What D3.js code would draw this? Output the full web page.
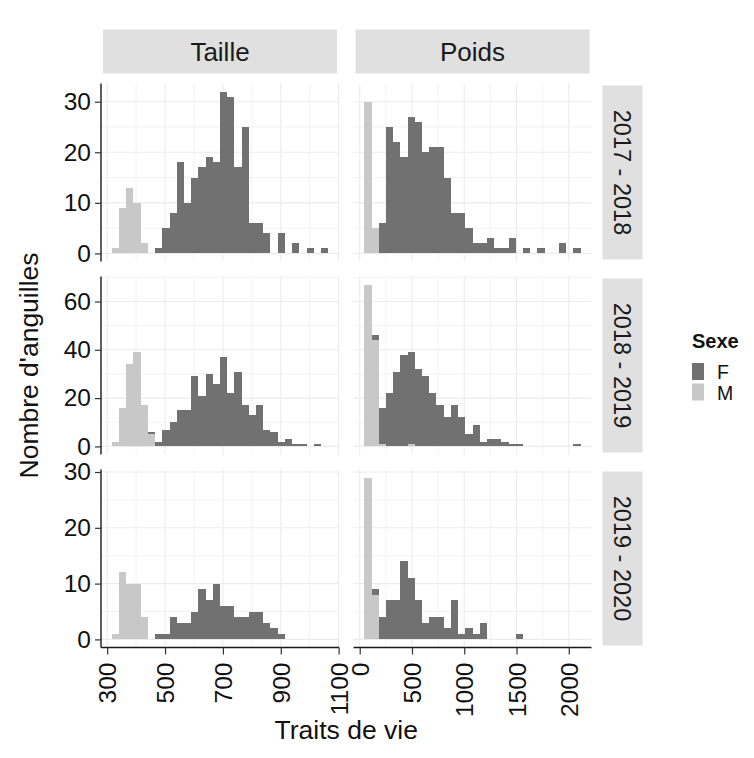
<!DOCTYPE html>
<html><head><meta charset="utf-8">
<script src="https://cdn.jsdelivr.net/npm/d3@7"></script>
<style>body{margin:0;background:#fff}svg{display:block}</style>
</head><body><svg id="c" width="754" height="758"></svg>
<script>
// ---------- data ----------
const traits = ["Taille", "Poids"];
const saisons = ["2017 - 2018", "2018 - 2019", "2019 - 2020"];
const sexes = ["F", "M"];

// histogram bins: 30 bins per column
const tailleBinStart = 316, tailleBinWidth = 24.93;
const poidsBinStart = 44, poidsBinWidth = 69;

// counts per bin (Taille)
const tailleF_1718 = [0,0,0,0,0,0,1,5,8,18,10,15,17,19,18,32,31,17,25,6,6,4,0,4,0,2,0,1,0,1];
const tailleM_1718 = [1,9,13,10,2,0,0,0,0,0,0,0,0,0,0,0,0,0,0,0,0,0,0,0,0,0,0,0,0,0];
const tailleF_1819 = [0,0,0,0,0,1,2,7,10,15,15,29,21,30,26,37,22,31,17,13,17,7,6,2,3,1,1,0,1,0];
const tailleM_1819 = [2,16,34,39,17,5,0,0,0,0,0,0,0,0,0,0,0,0,0,0,0,0,0,0,0,0,0,0,0,0];
const tailleF_1920 = [0,0,0,0,0,0,1,1,4,3,3,5,9,7,10,6,6,4,4,5,5,3,2,1,0,0,0,0,0,0];
const tailleM_1920 = [1,12,10,10,4,0,0,0,0,0,0,0,0,0,0,0,0,0,0,0,0,0,0,0,0,0,0,0,0,0];
// counts per bin (Poids)
const poidsF_1718 = [0,0,6,25,22,19,27,26,20,21,21,15,8,8,5,2,2,3,1,1,3,0,1,0,1,0,0,2,0,1];
const poidsM_1718 = [30,5,0,0,0,0,0,0,0,0,0,0,0,0,0,0,0,0,0,0,0,0,0,0,0,0,0,0,0,0];
const poidsF_1819 = [0,2,15,22,31,38,38,32,29,22,17,12,17,12,5,9,2,3,3,2,1,1,0,0,0,0,0,0,0,1];
const poidsM_1819 = [67,44,1,0,0,0,1,0,0,0,0,0,0,0,0,0,0,0,0,0,0,0,0,0,0,0,0,0,0,0];
const poidsF_1920 = [0,1,4,7,7,14,11,7,3,4,4,2,7,1,2,1,3,0,0,0,0,1,0,0,0,0,0,0,0,0];
const poidsM_1920 = [29,8,0,0,0,0,0,0,0,0,0,0,0,0,0,0,0,0,0,0,0,0,0,0,0,0,0,0,0,0];

// tick labels
const tailleTicks = [300, 500, 700, 900, 1100];
const poidsTicks = [0, 500, 1000, 1500, 2000];
const yTicks_1718 = [0, 10, 20, 30];
const yTicks_1819 = [0, 20, 40, 60];
const yTicks_1920 = [0, 10, 20, 30];

const xTitle = "Traits de vie";
const yTitle = "Nombre d'anguilles";
const legendTitle = "Sexe";

// ---------- assemble ----------
const binSpecs = [
  {start: tailleBinStart, width: tailleBinWidth, ticks: tailleTicks},
  {start: poidsBinStart, width: poidsBinWidth, ticks: poidsTicks}
];
const counts = [
  [{F: tailleF_1718, M: tailleM_1718}, {F: poidsF_1718, M: poidsM_1718}],
  [{F: tailleF_1819, M: tailleM_1819}, {F: poidsF_1819, M: poidsM_1819}],
  [{F: tailleF_1920, M: tailleM_1920}, {F: poidsF_1920, M: poidsM_1920}]
];
const rowTicks = [yTicks_1718, yTicks_1819, yTicks_1920];

const colors = {F: "#717171", M: "#c8c8c8"};
const font = "'Liberation Sans', Arial, Helvetica, sans-serif";

// layout
const colX = [101, 353.5], panelW = 238;
const rowY = [83.5, 276.5, 469.5], panelH = 178;

const svg = d3.select("#c");
svg.append("rect").attr("width", 754).attr("height", 758).attr("fill", "#ffffff");

// x scales per column (ggplot: expand 5% of bin range)
const xScales = binSpecs.map((b, c) => {
  const lo = b.start, hi = b.start + 30 * b.width, pad = 0.05 * (hi - lo);
  return d3.scaleLinear().domain([lo - pad, hi + pad]).range([colX[c], colX[c] + panelW]);
});
// y scales per row (free y by row)
const yScales = counts.map((row, r) => {
  const maxC = d3.max(row, cell => d3.max(cell.F.map((f, i) => f + cell.M[i])));
  const pad = 0.05 * maxC;
  return d3.scaleLinear().domain([-pad, maxC + pad]).range([rowY[r] + panelH, rowY[r]]);
});

function midpoints(arr) {
  const out = [];
  const step = arr[1] - arr[0];
  const all = [arr[0] - step, ...arr, arr[arr.length - 1] + step];
  for (let i = 0; i < all.length - 1; i++) out.push((all[i] + all[i + 1]) / 2);
  return out;
}

for (let r = 0; r < 3; r++) {
  for (let c = 0; c < 2; c++) {
    const x = xScales[c], y = yScales[r];
    const g = svg.append("g");
    const [x0, x1] = x.range(), [yb, yt] = y.range();
    const xd = x.domain(), yd = y.domain();
    // minor grid
    midpoints(binSpecs[c].ticks).filter(v => v > xd[0] && v < xd[1]).forEach(v => {
      g.append("line").attr("x1", x(v)).attr("x2", x(v)).attr("y1", yt).attr("y2", yb)
        .attr("stroke", "#f0f0f0").attr("stroke-width", 0.9);
    });
    midpoints(rowTicks[r]).filter(v => v > yd[0] && v < yd[1]).forEach(v => {
      g.append("line").attr("x1", x0).attr("x2", x1).attr("y1", y(v)).attr("y2", y(v))
        .attr("stroke", "#f0f0f0").attr("stroke-width", 0.9);
    });
    // major grid
    binSpecs[c].ticks.forEach(v => {
      g.append("line").attr("x1", x(v)).attr("x2", x(v)).attr("y1", yt).attr("y2", yb)
        .attr("stroke", "#ebebeb").attr("stroke-width", 1.1);
    });
    rowTicks[r].forEach(v => {
      g.append("line").attr("x1", x0).attr("x2", x1).attr("y1", y(v)).attr("y2", y(v))
        .attr("stroke", "#ebebeb").attr("stroke-width", 1.1);
    });
    // stacked bars: M bottom, F on top
    const cell = counts[r][c];
    const rows = cell.F.map((f, i) => ({i, F: f, M: cell.M[i]}));
    const stacked = d3.stack().keys(["M", "F"])(rows);
    stacked.forEach(layer => {
      g.append("g").attr("fill", colors[layer.key]).selectAll("rect")
        .data(layer.filter(d => d[1] - d[0] > 0))
        .join("rect")
        .attr("x", d => x(binSpecs[c].start + d.data.i * binSpecs[c].width))
        .attr("width", d => x(binSpecs[c].start + (d.data.i + 1) * binSpecs[c].width) - x(binSpecs[c].start + d.data.i * binSpecs[c].width))
        .attr("y", d => y(d[1]))
        .attr("height", d => y(d[0]) - y(d[1]))
        .attr("shape-rendering", "crispEdges");
    });
    // y axis (left column)
    if (c === 0) {
      const ax = svg.append("g").attr("transform", `translate(${x0},0)`)
        .call(d3.axisLeft(y).tickValues(rowTicks[r]).tickSize(6).tickPadding(4));
      ax.select(".domain").attr("d", `M0,${yt}V${yb}`).attr("stroke", "#1a1a1a").attr("stroke-width", 1.4);
      ax.selectAll(".tick line").attr("stroke", "#333").attr("stroke-width", 1.2);
      ax.selectAll(".tick text").attr("font-family", font).attr("font-size", 24.5).attr("fill", "#111");
    }
    // x axis (bottom row)
    if (r === 2) {
      const ax = svg.append("g").attr("transform", `translate(0,${yb})`)
        .call(d3.axisBottom(x).tickValues(binSpecs[c].ticks).tickSize(7).tickFormat(d3.format("d")));
      ax.select(".domain").attr("d", `M${x0},0H${x1}`).attr("stroke", "#1a1a1a").attr("stroke-width", 1.4);
      ax.selectAll(".tick line").attr("stroke", "#333").attr("stroke-width", 1.2);
      ax.selectAll(".tick text")
        .attr("font-family", font).attr("font-size", 24.5).attr("fill", "#111")
        .attr("transform", "rotate(-90)")
        .attr("text-anchor", "end")
        .attr("x", -15).attr("y", 0).attr("dy", "0.35em");
    }
  }
}

// top strips
traits.forEach((t, c) => {
  svg.append("rect").attr("x", colX[c] + 2).attr("y", 29.5).attr("width", panelW - 4).attr("height", 44)
    .attr("fill", "#e0e0e0");
  svg.append("text").attr("x", colX[c] + panelW / 2).attr("y", 51.5).attr("dy", "0.36em")
    .attr("text-anchor", "middle").attr("font-family", font).attr("font-size", 26).attr("fill", "#1a1a1a")
    .text(t);
});
// right strips
saisons.forEach((s, r) => {
  svg.append("rect").attr("x", 602.5).attr("y", rowY[r] + 2).attr("width", 40).attr("height", panelH - 4)
    .attr("fill", "#e0e0e0");
  svg.append("text").attr("transform", `translate(622.5,${rowY[r] + panelH / 2}) rotate(90)`)
    .attr("dy", "0.36em").attr("text-anchor", "middle").attr("font-family", font)
    .attr("font-size", 23.5).attr("fill", "#1a1a1a").text(s);
});

// axis titles
svg.append("text").attr("x", (colX[0] + colX[1] + panelW) / 2).attr("y", 739)
  .attr("text-anchor", "middle").attr("font-family", font).attr("font-size", 26.5).attr("fill", "#111")
  .text(xTitle);
svg.append("text").attr("transform", `translate(38,${rowY[0] + (rowY[2] + panelH - rowY[0]) / 2}) rotate(-90)`)
  .attr("text-anchor", "middle").attr("font-family", font).attr("font-size", 26.5).attr("fill", "#111")
  .text(yTitle);

// legend
const lg = svg.append("g");
lg.append("text").attr("x", 692).attr("y", 347.5).attr("font-family", font).attr("font-weight", "bold")
  .attr("font-size", 20).attr("fill", "#111").text(legendTitle);
sexes.forEach((s, i) => {
  lg.append("rect").attr("x", 692).attr("y", 363 + i * 20.5).attr("width", 12).attr("height", 17)
    .attr("fill", colors[s]);
  lg.append("text").attr("x", 717).attr("y", 379 + i * 20.8).attr("font-family", font)
    .attr("font-size", 19.5).attr("fill", "#111").text(s);
});
</script>
</body></html>
